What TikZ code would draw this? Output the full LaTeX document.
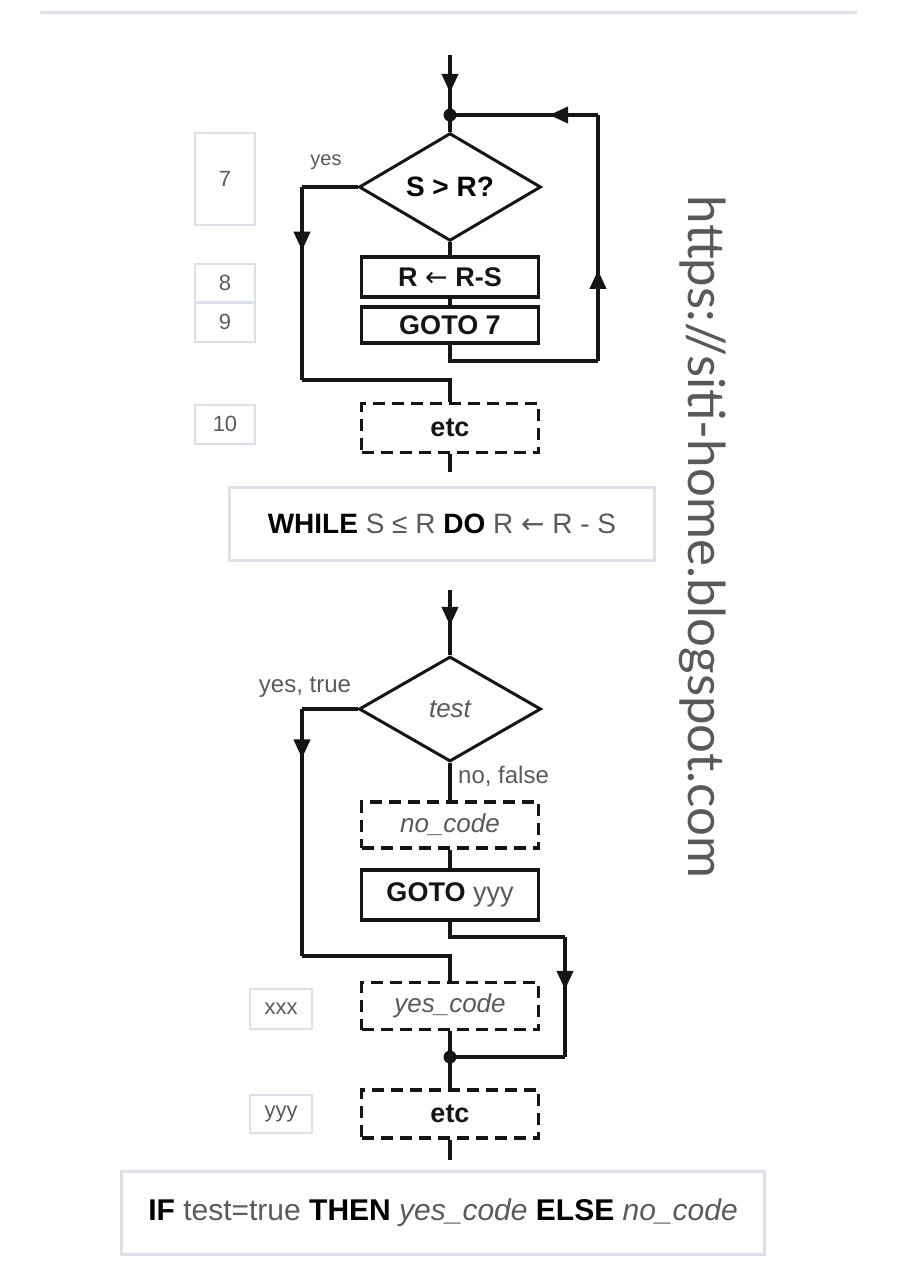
\documentclass[tikz,border=0pt]{standalone}
\usepackage{fontspec}
\setmainfont{Liberation Sans}
\newfontfamily\markfont{Lato}
\newfontfamily\arrowfont{DejaVu Sans}
\usetikzlibrary{shapes.geometric,arrows.meta,decorations.markings}
\definecolor{LineInk}{HTML}{151515}
\definecolor{SoftInk}{HTML}{5A5A5A}
\definecolor{FrameGray}{HTML}{DCE0E8}
\newcommand{\larr}{{\arrowfont\mdseries ←}}

\begin{document}
\begin{tikzpicture}[x=1pt,y=-1pt,
    flow/.style={line width=4pt, LineInk},
    midarrow/.style={postaction={decorate}, decoration={markings,
      mark=at position #1 with {\arrow{Triangle[length=19pt,width=16pt]}}}},
    proc/.style={draw=LineInk, line width=3.5pt, inner sep=0pt, minimum width=177pt,
      font=\bfseries\fontsize{27}{30}\selectfont, text=LineInk},
    dproc/.style={proc, dash pattern=on 12pt off 7pt},
    cond/.style={diamond, draw=LineInk, line width=3pt, inner sep=0pt,
      minimum width=182pt, minimum height=105pt},
    numbox/.style={draw=FrameGray, line width=2pt, inner sep=0pt, text=SoftInk,
      font=\fontsize{22}{24}\selectfont},
    notebox/.style={draw=FrameGray, line width=2.5pt, inner sep=0pt},
    lbl/.style={text=SoftInk, inner sep=0pt}]
    \useasboundingbox (0,0) rectangle (897,1280);
    % rule at the top
    \draw[line width=3pt, FrameGray] (40,12) -- (857,12);
    % while loop
    \coordinate (in1) at (450,55);
    \coordinate (j1) at (450,115);
    \node[cond] (d1) at (450,187) {\bfseries\fontsize{28}{30}\selectfont S > R?};
    \node[proc, minimum height=40pt] (b1) at (450,277) {R \larr\ R-S};
    \node[proc, minimum height=36pt] (b2) at (450,325) {GOTO 7};
    \node[dproc, minimum height=49pt] (e1) at (450,428) {etc};
    \node[lbl, font=\fontsize{20}{22}\selectfont] (yes1) at (326,162) {yes};
    \coordinate (y1) at (302,187);
    \coordinate (y2) at (302,380);
    \coordinate (r1) at (598,361);
    \coordinate (r2) at (598,115);
    \coordinate (o1) at (450,472);
    \draw[flow, midarrow=0.63] (in1) -- (j1);
    \draw[flow] (j1) -- (d1.north);
    \draw[flow] (d1.south) -- (b1.north);
    \draw[flow] (b1.south) -- (b2.north);
    \draw[flow] (b2.south) |- (r1);
    \draw[flow, midarrow=0.37] (r1) -- (r2);
    \draw[flow, midarrow=0.33] (r2) -- (j1);
    \draw[flow] (d1.west) -- (y1);
    \draw[flow, midarrow=0.33] (y1) -- (y2);
    \draw[flow] (y2) -| (e1.north);
    \draw[flow] (e1.south) -- (o1);
    \fill[LineInk] (j1) circle (6.5pt);
    % line numbers
    \node[numbox, minimum width=60pt, minimum height=92pt] (n7) at (225,179) {7};
    \node[numbox, minimum width=60pt, minimum height=39pt] (n8) at (225,283) {8};
    \node[numbox, minimum width=60pt, minimum height=40pt] (n9) at (225,322) {9};
    \node[numbox, minimum width=60pt, minimum height=39pt] (n10) at (225,424) {10};
    \node[notebox, minimum width=425pt, minimum height=73pt, font=\fontsize{28}{32}\selectfont] (w1) at (442,524)
      {\textbf{WHILE} \textcolor{SoftInk}{S ≤ R} \textbf{DO} \textcolor{SoftInk}{R \larr\ R - S}};
    % if then else
    \coordinate (in2) at (450,590);
    \node[cond] (d2) at (450,709) {\itshape\color{SoftInk}\fontsize{26}{28}\selectfont test};
    \node[dproc, minimum height=46pt, font=\itshape\fontsize{26}{30}\selectfont, text=SoftInk] (b3) at (450,825) {no\_code};
    \node[proc, minimum height=50pt] (b4) at (450,895) {GOTO \mdseries\color{SoftInk}yyy};
    \node[dproc, minimum height=47pt, font=\itshape\fontsize{26}{30}\selectfont, text=SoftInk] (b5) at (450,1006) {yes\_code};
    \node[dproc, minimum height=48pt] (e2) at (450,1114) {etc};
    \node[lbl, font=\fontsize{24}{26}\selectfont] (yes2) at (305,687) {yes, true};
    \node[lbl, anchor=west, font=\fontsize{24}{26}\selectfont] (no2) at (458,776) {no, false};
    \coordinate (y3) at (302,709);
    \coordinate (y4) at (302,956);
    \coordinate (g1) at (565,937);
    \coordinate (g2) at (565,1057);
    \coordinate (j2) at (450,1057);
    \coordinate (o2) at (450,1160);
    \draw[flow, midarrow=0.55] (in2) -- (d2.north);
    \draw[flow] (d2.south) -- (b3.north);
    \draw[flow] (b3.south) -- (b4.north);
    \draw[flow] (b4.south) |- (g1);
    \draw[flow, midarrow=0.44] (g1) -- (g2);
    \draw[flow] (g2) -- (j2);
    \draw[flow] (d2.west) -- (y3);
    \draw[flow, midarrow=0.2] (y3) -- (y4);
    \draw[flow] (y4) -| (b5.north);
    \draw[flow] (b5.south) -- (j2) -- (e2.north);
    \draw[flow] (e2.south) -- (o2);
    \fill[LineInk] (j2) circle (6.5pt);
    % labels xxx and yyy
    \node[numbox, minimum width=62pt, minimum height=40pt] (nx) at (281,1009) {xxx};
    \node[numbox, minimum width=62pt, minimum height=38pt] (ny) at (281,1114) {yyy};
    \node[notebox, minimum width=643pt, minimum height=83pt, font=\fontsize{30}{34}\selectfont] (w2) at (443,1213)
      {\textbf{IF} \textcolor{SoftInk}{test=true} \textbf{THEN} \textcolor{SoftInk}{\itshape yes\_code} \textbf{ELSE} \textcolor{SoftInk}{\itshape no\_code}};
    % watermark
    \node[rotate=-90, text=black!65, font=\markfont\fontsize{51}{55}\selectfont] (wm) at (703,537) {https://siti-home.blogspot.com};
  \end{tikzpicture}
\end{document}
